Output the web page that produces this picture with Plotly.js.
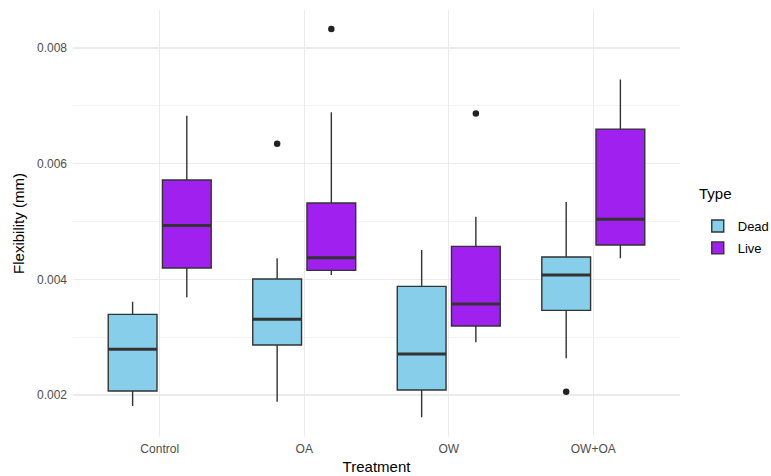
<!DOCTYPE html>
<html>
<head>
<meta charset="utf-8">
<script src="https://cdn.plot.ly/plotly-3.0.1.min.js"></script>
<style>html,body{margin:0;padding:0;background:#fff;}#chart{width:771px;height:476px;}</style>
</head>
<body>
<div id="chart"></div>
<script>
var treatments = ["Control", "OA", "OW", "OW+OA"];
var positions = [1, 2, 3, 4];

var deadLower  = [0.00181, 0.001885, 0.001614, 0.002634];
var deadQ1     = [0.002069, 0.002864, 0.002086, 0.003464];
var deadMedian = [0.00279, 0.003308, 0.002709, 0.004074];
var deadQ3     = [0.003395, 0.004005, 0.003879, 0.004385];
var deadUpper  = [0.003613, 0.004363, 0.004506, 0.005336];
var deadOutlierTreatment = ["OA", "OW+OA"];
var deadOutliers = [0.006344, 0.002057];

var liveLower  = [0.003689, 0.004074, 0.002911, 0.004363];
var liveQ1     = [0.004195, 0.004155, 0.003193, 0.004593];
var liveMedian = [0.004933, 0.004374, 0.003573, 0.005037];
var liveQ3     = [0.005717, 0.005319, 0.00457, 0.006598];
var liveUpper  = [0.006828, 0.006887, 0.005082, 0.007457];
var liveOutlierTreatment = ["OA", "OW"];
var liveOutliers = [0.008327, 0.006869];

var boxGap = 0.25, boxGroupGap = 0.1;
var dodge = (1 - boxGap) / 4;
var boxWidthUnits = (1 - boxGap) * (1 - boxGroupGap) / 2;
var xRange = [0.4, 4.6];
var plotWidthPx = 771 - 73 - 91;
var medianPx = boxWidthUnits * plotWidthPx / (xRange[1] - xRange[0]) / 1.4;

function posOf(name) { return positions[treatments.indexOf(name)]; }

var lineCol = "#333333";
var traces = [
  {type: "box", name: "Dead", x: positions, q1: deadQ1, median: deadMedian, q3: deadQ3,
   lowerfence: deadLower, upperfence: deadUpper, fillcolor: "#87CEEB",
   line: {color: lineCol, width: 1.4}, whiskerwidth: 0, hoverinfo: "skip", legendgroup: "d"},
  {type: "box", name: "Live", x: positions, q1: liveQ1, median: liveMedian, q3: liveQ3,
   lowerfence: liveLower, upperfence: liveUpper, fillcolor: "#A020F0",
   line: {color: lineCol, width: 1.4}, whiskerwidth: 0, hoverinfo: "skip", legendgroup: "l"},
  {type: "scatter", mode: "markers", showlegend: false, hoverinfo: "skip",
   x: positions.map(function(p){return p - dodge;}), y: deadMedian,
   marker: {symbol: "line-ew-open", size: medianPx, color: lineCol, line: {color: lineCol, width: 3}}},
  {type: "scatter", mode: "markers", showlegend: false, hoverinfo: "skip",
   x: positions.map(function(p){return p + dodge;}), y: liveMedian,
   marker: {symbol: "line-ew-open", size: medianPx, color: lineCol, line: {color: lineCol, width: 3}}},
  {type: "scatter", mode: "markers", showlegend: false, hoverinfo: "skip",
   x: deadOutlierTreatment.map(function(t){return posOf(t) - dodge;}), y: deadOutliers,
   marker: {color: "#222222", size: 6.5}},
  {type: "scatter", mode: "markers", showlegend: false, hoverinfo: "skip",
   x: liveOutlierTreatment.map(function(t){return posOf(t) + dodge;}), y: liveOutliers,
   marker: {color: "#222222", size: 6.5}}
];

var layout = {
  width: 771, height: 476,
  margin: {l: 73, r: 91, t: 10, b: 39, autoexpand: false},
  paper_bgcolor: "#ffffff", plot_bgcolor: "#ffffff",
  font: {family: "Liberation Sans, Arial, sans-serif", color: "#4D4D4D", size: 12},
  boxmode: "group", boxgap: boxGap, boxgroupgap: boxGroupGap,
  showlegend: true,
  xaxis: {
    range: xRange, tickvals: positions, ticktext: treatments,
    showgrid: true, gridcolor: "#EBEBEB", gridwidth: 1.1, zeroline: false, showline: false,
    ticks: "", ticklen: 0, ticklabelstandoff: 3, tickfont: {size: 12, color: "#4D4D4D"},
    title: {text: "Treatment", font: {size: 15, color: "#000000"}, standoff: 6}
  },
  yaxis: {
    range: [0.001274, 0.008657], tickvals: [0.002, 0.004, 0.006, 0.008],
    ticktext: ["0.002", "0.004", "0.006", "0.008"],
    showgrid: true, gridcolor: "#EBEBEB", gridwidth: 1.1, zeroline: false, showline: false,
    ticks: "", ticklabelstandoff: 5, tickfont: {size: 12, color: "#4D4D4D"},
    minor: {tickvals: [0.003, 0.005, 0.007], showgrid: true, gridcolor: "#F3F3F3", gridwidth: 1},
    title: {text: "Flexibility (mm)", font: {size: 15, color: "#000000"}, standoff: 8}
  },
  legend: {
    xref: "container", yref: "container",
    x: 0.905, xanchor: "left", y: 0.502, yanchor: "middle",
    font: {size: 13, color: "#000000"}, tracegroupgap: 2, itemwidth: 30
  },
  annotations: [{
    text: "Type", xref: "paper", yref: "paper", x: (697 - 73) / 607, y: 1 - (193 - 10) / 427,
    xanchor: "left", yanchor: "middle", showarrow: false,
    font: {size: 15, color: "#000000"}
  }]
};

Plotly.newPlot("chart", traces, layout, {displayModeBar: false, staticPlot: true});
</script>
</body>
</html>
